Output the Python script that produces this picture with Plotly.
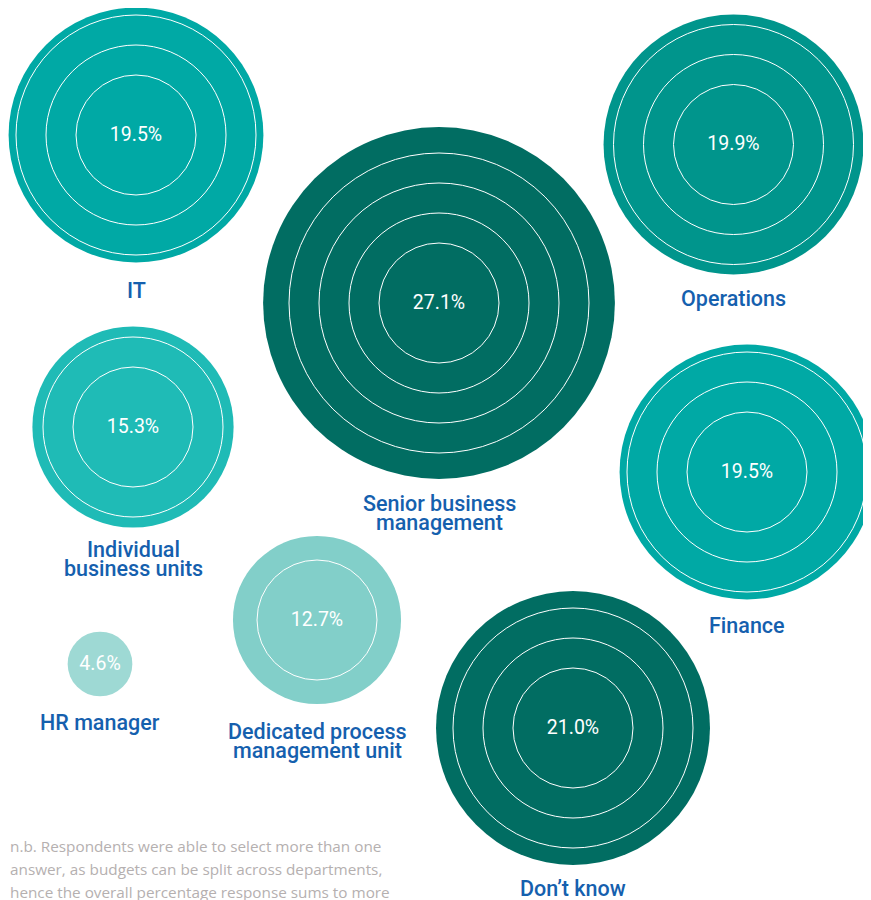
import plotly.graph_objects as go

# ---- data ----
categories = ["IT", "Operations", "Senior business management", "Individual business units",
              "Finance", "HR manager", "Dedicated process management unit", "Don’t know"]
values = [19.5, 19.9, 27.1, 15.3, 19.5, 4.6, 12.7, 21.0]
value_labels = ["19.5%", "19.9%", "27.1%", "15.3%", "19.5%", "4.6%", "12.7%", "21.0%"]
label_lines = [["IT"], ["Operations"], ["Senior business", "management"], ["Individual", "business units"],
               ["Finance"], ["HR manager"], ["Dedicated process", "management unit"], ["Don’t know"]]

# ---- layout / style (pixel coordinates of the 871x900 page) ----
centers = [(136, 135), (733.5, 144.5), (439, 303), (133, 427), (747, 472), (100, 664), (317, 620), (573, 728)]
label_y = [290, 298, 503, 549, 625, 722, 731, 888]
colors = ["#00A9A5", "#00958C", "#016D62", "#1FBBB6", "#00A9A5", "#9ED9D4", "#82CFC9", "#016D62"]
ring_radii = [60, 90, 120, 150]
LABEL_COLOR = "#1560AE"
PAGE_W, PAGE_H = 871, 900
OFF = 8  # default page body margin

def radius(v):
    return 3 + 6.38 * v

fig = go.Figure()

# filled circles (size driven by value)
fig.add_trace(go.Scatter(
    x=[c[0] for c in centers], y=[c[1] for c in centers], mode="markers",
    marker=dict(size=[2 * radius(v) for v in values], color=colors, line=dict(width=0), opacity=1),
    hoverinfo="skip", showlegend=False,
))

# concentric white rings
for rr in ring_radii:
    xs, ys = [], []
    for (cx, cy), v in zip(centers, values):
        if rr < radius(v) - 5:
            xs.append(cx)
            ys.append(cy)
    if xs:
        fig.add_trace(go.Scatter(
            x=xs, y=ys, mode="markers",
            marker=dict(symbol="circle-open", size=2 * rr, color="white", line=dict(width=1, color="white")),
            hoverinfo="skip", showlegend=False,
        ))

# value text
fig.add_trace(go.Scatter(
    x=[c[0] for c in centers], y=[c[1] + 1 for c in centers], mode="text",
    text=value_labels, textposition="middle center",
    textfont=dict(family="Roboto, Arial, sans-serif", size=19.5, color="white"),
    hoverinfo="skip", showlegend=False,
))

annotations = []
for (cx, cy), ly, lines in zip(centers, label_y, label_lines):
    for i, line in enumerate(lines):
        annotations.append(dict(
            x=cx, y=ly + 19 * i, xref="x", yref="y", text=line, showarrow=False,
            xanchor="center", yanchor="middle",
            font=dict(family="Roboto, Arial, sans-serif", size=21.5, color=LABEL_COLOR, weight=500),
        ))

footnote = ["n.b. Respondents were able to select more than one",
            "answer, as budgets can be split across departments,",
            "hence the overall percentage response sums to more"]
for i, line in enumerate(footnote):
    annotations.append(dict(
        x=OFF, y=846 + 23 * i, xref="x", yref="y", text=line, showarrow=False,
        xanchor="left", yanchor="middle",
        font=dict(family="Open Sans, Lato, sans-serif", size=15.3, color="#B5B0B0"),
    ))

fig.update_layout(
    width=PAGE_W - OFF, height=PAGE_H - OFF, margin=dict(l=0, r=0, t=0, b=0),
    paper_bgcolor="white", plot_bgcolor="white",
    xaxis=dict(range=[OFF, PAGE_W], visible=False, fixedrange=True),
    yaxis=dict(range=[PAGE_H, OFF], visible=False, fixedrange=True),
    annotations=annotations, hovermode=False,
)

fig.write_html("out.html", config={"displayModeBar": False})
